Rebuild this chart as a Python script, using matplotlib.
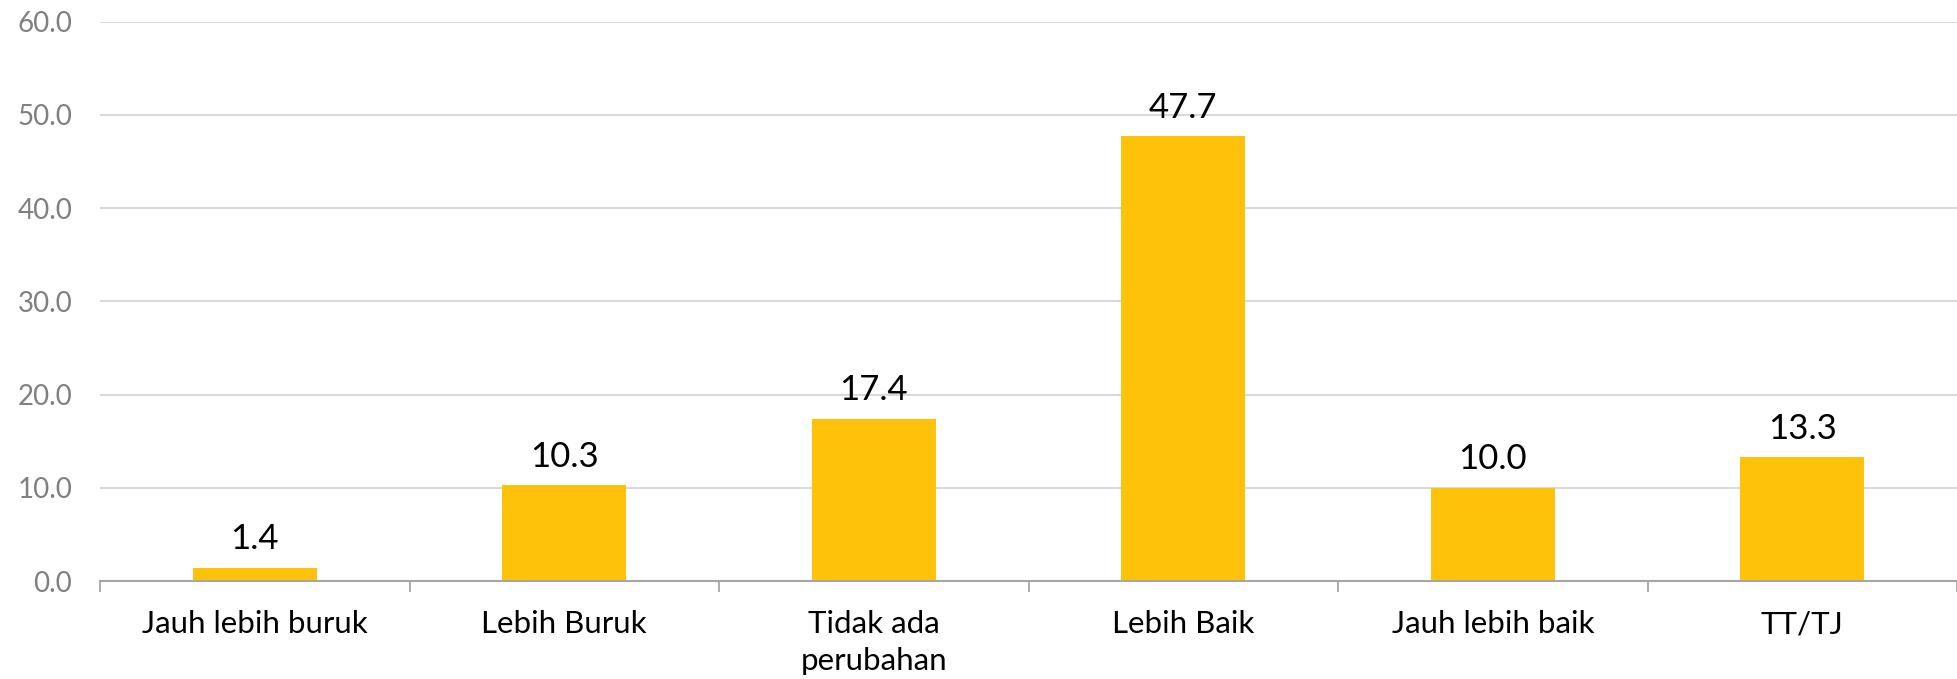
import matplotlib.pyplot as plt
import numpy as np

# data
categories = ['Jauh lebih buruk', 'Lebih Buruk', 'Tidak ada\nperubahan',
              'Lebih Baik', 'Jauh lebih baik', 'TT/TJ']
values = [1.4, 10.3, 17.4, 47.7, 10.0, 13.3]
y_ticks = [0, 10, 20, 30, 40, 50, 60]

plt.rcParams['font.family'] = ['Lato', 'DejaVu Sans']

fig = plt.figure(figsize=(19.57, 6.79), dpi=100)
ax = fig.add_axes([0.0511, 0.1443, 0.9489, 0.8237])

x = np.arange(len(categories))
bars = ax.bar(x, values, width=0.4, color='#FFC20A', zorder=3)

for bar, val in zip(bars, values):
    ax.annotate(f'{val:.1f}', (bar.get_x() + bar.get_width() / 2, bar.get_height()),
                xytext=(0, 9), textcoords='offset points',
                ha='center', va='bottom', fontsize=25, color='black')

ax.set_xlim(-0.5, len(categories) - 0.5)
ax.set_ylim(0, 60)
ax.set_yticks(y_ticks)
ax.set_yticklabels([f'{t:.1f}' for t in y_ticks], fontsize=20, color='#808080')
ax.tick_params(axis='y', length=0, pad=20)

# category labels centred, tick marks at category boundaries
ax.set_xticks(x)
ax.set_xticklabels(categories, fontsize=22.5, color='black', linespacing=1.4)
ax.tick_params(axis='x', which='major', length=0, pad=21)
ax.set_xticks(np.arange(len(categories) + 1) - 0.5, minor=True)
ax.tick_params(axis='x', which='minor', length=8, width=1.2, color='#A0A0A0')

ax.grid(axis='y', color='#D9D9D9', linewidth=1.5, zorder=0)
for side in ['top', 'right', 'left']:
    ax.spines[side].set_visible(False)
ax.spines['bottom'].set_color('#A6A6A6')
ax.spines['bottom'].set_linewidth(1.5)
ax.spines['bottom'].set_zorder(4)

fig.savefig('out.png', dpi=100)
